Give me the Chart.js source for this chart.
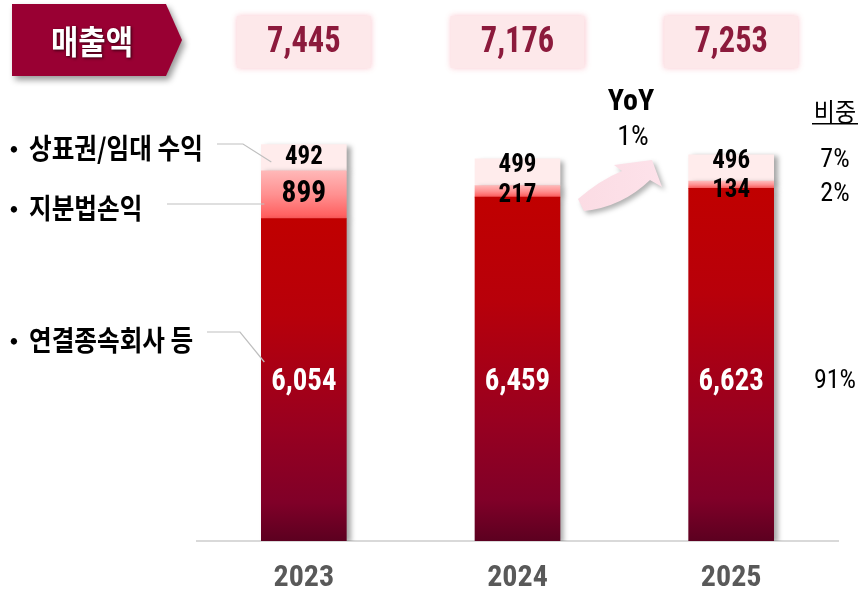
<!DOCTYPE html>
<html><head><meta charset="utf-8">
<script src="https://cdn.jsdelivr.net/npm/chart.js@4"></script>
<style>html,body{margin:0;padding:0;background:#fff;}canvas{display:block;}</style>
</head><body>
<canvas id="c" width="864" height="597"></canvas>
<script>
// ---- data ----
const categories = ['2023', '2024', '2025'];
const subsidiaries = [6054, 6459, 6623];   // 연결종속회사 등
const equityMethod = [899, 217, 134];      // 지분법손익
const royaltyRent = [492, 499, 496];       // 상표권/임대 수익
const totals = [7445, 7176, 7253];         // 매출액
const seriesNames = ['연결종속회사 등', '지분법손익', '상표권/임대 수익'];
const shareLabels = ['91%', '2%', '7%'];   // 비중 (2025) per series
const yoyText = '1%';
const headerText = '매출액';

const NARROW = '"Liberation Sans Narrow","Arial Narrow","Roboto Condensed","Liberation Sans",sans-serif';
const KR = '"Noto Sans CJK KR","Noto Sans KR",sans-serif';
const fmt = v => v.toLocaleString('en-US');

const seriesData = [subsidiaries, equityMethod, royaltyRent];

function gradientFill(stops) {
  return (c) => {
    const chart = c.chart;
    if (c.type !== 'data' || !chart.scales || !chart.scales.y) return stops[0][1];
    const y = chart.scales.y;
    let below = 0;
    for (let d = 0; d < c.datasetIndex; d++) below += seriesData[d][c.dataIndex];
    const above = below + seriesData[c.datasetIndex][c.dataIndex];
    const y0 = y.getPixelForValue(above), y1 = y.getPixelForValue(below);
    if (!isFinite(y0) || !isFinite(y1) || y0 === y1) return stops[0][1];
    const g = chart.ctx.createLinearGradient(0, y0, 0, y1);
    stops.forEach(s => g.addColorStop(s[0], s[1]));
    return g;
  };
}

function txt(ctx, s, x, y, font, color, align, sx) {
  ctx.save();
  ctx.font = font; ctx.fillStyle = color;
  ctx.textAlign = align || 'center'; ctx.textBaseline = 'middle';
  ctx.translate(x, y); ctx.scale(sx || 1, 1);
  ctx.fillText(s, 0, 0);
  ctx.restore();
}

const decor = {
  id: 'decor',
  beforeDatasetsDraw(chart) {
    const ctx = chart.ctx;
    ctx.save();
    ctx.shadowColor = 'rgba(0,0,0,0.35)';
    ctx.shadowBlur = 5; ctx.shadowOffsetX = 4; ctx.shadowOffsetY = 2;
  },
  afterDatasetsDraw(chart) {
    const ctx = chart.ctx;
    ctx.restore();
    const x = chart.scales.x, y = chart.scales.y;
    const m0 = chart.getDatasetMeta(0), m1 = chart.getDatasetMeta(1), m2 = chart.getDatasetMeta(2);

    // ---- category labels (x axis) ----
    categories.forEach((c, i) => {
      txt(ctx, c, x.getPixelForValue(i), chart.chartArea.bottom + 37, 'bold 30px ' + NARROW, '#595959');
    });

    // ---- header arrow box ----
    ctx.save();
    ctx.shadowColor = 'rgba(0,0,0,0.4)'; ctx.shadowBlur = 6; ctx.shadowOffsetX = 3; ctx.shadowOffsetY = 4;
    ctx.fillStyle = '#990033';
    ctx.beginPath();
    ctx.moveTo(12, 4); ctx.lineTo(166, 4); ctx.lineTo(182, 40); ctx.lineTo(166, 76); ctx.lineTo(12, 76);
    ctx.closePath(); ctx.fill();
    ctx.restore();
    ctx.save();
    ctx.shadowColor = 'rgba(0,0,0,0.7)'; ctx.shadowBlur = 3; ctx.shadowOffsetX = 1; ctx.shadowOffsetY = 1;
    txt(ctx, headerText, 92, 41, 'bold 33px ' + KR, '#ffffff', 'center', 0.9);
    ctx.restore();

    // ---- totals boxes ----
    categories.forEach((c, i) => {
      const cx = x.getPixelForValue(i);
      ctx.save();
      ctx.shadowColor = 'rgba(250,190,200,0.9)'; ctx.shadowBlur = 6;
      ctx.fillStyle = '#FDE8EA';
      ctx.fillRect(cx - 67, 16, 134, 52);
      ctx.restore();
      txt(ctx, fmt(totals[i]), cx, 43, 'bold 36px ' + NARROW, '#8C1A3C', 'center', 0.9);
    });

    // ---- segment labels ----
    const bottomLabelY = y.getPixelForValue(Math.min(...subsidiaries) / 2) + 2;
    const pos = [];
    categories.forEach((c, i) => {
      const b = m0.data[i], m = m1.data[i], t = m2.data[i];
      const midH = m.base - m.y;
      let ty, my, mfont;
      if (midH >= 30) {
        ty = (t.y + t.base) / 2; my = (m.y + m.base) / 2; mfont = 'bold 31px ';
      } else {
        ty = t.y + 7; my = m.y + 10; mfont = 'bold 25px ';
      }
      txt(ctx, fmt(royaltyRent[i]), t.x, ty, 'bold 25px ' + NARROW, '#000000');
      txt(ctx, fmt(equityMethod[i]), m.x, my, mfont + NARROW, '#000000', 'center', midH >= 30 ? 0.95 : 1);
      txt(ctx, fmt(subsidiaries[i]), b.x, bottomLabelY, 'bold 31px ' + NARROW, '#ffffff', 'center', 0.93);
      pos.push({ ty, my });
    });

    // ---- share column (비중) ----
    const last = pos[pos.length - 1];
    const sx = 835;
    txt(ctx, '비중', sx, 111, '25px ' + KR, '#000000', 'center', 0.92);
    ctx.fillStyle = '#000'; ctx.fillRect(812, 123, 46, 1.5);
    txt(ctx, shareLabels[2], sx, last.ty - 1, '26px ' + NARROW, '#000000');
    txt(ctx, shareLabels[1], sx, last.my + 3, '26px ' + NARROW, '#000000');
    txt(ctx, shareLabels[0], sx, bottomLabelY, '26px ' + NARROW, '#000000');

    // ---- YoY ----
    txt(ctx, 'YoY', 631, 102, 'bold 30px ' + NARROW, '#000000');
    txt(ctx, yoyText, 633, 138, '28px ' + NARROW, '#000000');
    ctx.save();
    ctx.shadowColor = 'rgba(0,0,0,0.3)'; ctx.shadowBlur = 5; ctx.shadowOffsetX = 3; ctx.shadowOffsetY = 3;
    const ag = ctx.createLinearGradient(578, 0, 662, 0);
    ag.addColorStop(0, '#FBDCE4'); ag.addColorStop(1, '#FDE2EA');
    ctx.fillStyle = ag;
    ctx.beginPath();
    ctx.moveTo(578, 199);
    ctx.quadraticCurveTo(600, 180, 622, 171);
    ctx.lineTo(614, 165);
    ctx.lineTo(652, 160);
    ctx.lineTo(662, 187);
    ctx.lineTo(650, 180);
    ctx.quadraticCurveTo(622, 207, 584, 211);
    ctx.closePath(); ctx.fill();
    ctx.restore();

    // ---- left series labels with connectors ----
    const left = m0.data[0].x - m0.data[0].width / 2;
    const labels = [
      { name: seriesNames[2], ty: 148, line: [[217, 144], [243, 144], [left + 10, 162]] },
      { name: seriesNames[1], ty: 208, line: [[167, 204], [left + 3, 204]] },
      { name: seriesNames[0], ty: 340, line: [[207, 332], [240, 332], [left + 3, 362]] },
    ];
    labels.forEach(l => {
      txt(ctx, '•', 14, l.ty, 'bold 22px ' + KR, '#000000');
      txt(ctx, l.name, 29, l.ty, 'bold 28px ' + KR, '#000000', 'left', 0.88);
      ctx.save();
      ctx.strokeStyle = '#BFBFBF'; ctx.lineWidth = 1.2;
      ctx.beginPath();
      l.line.forEach((p, k) => k ? ctx.lineTo(p[0], p[1]) : ctx.moveTo(p[0], p[1]));
      ctx.stroke();
      ctx.restore();
    });
  }
};

new Chart(document.getElementById('c'), {
  type: 'bar',
  data: {
    labels: categories,
    datasets: [
      { label: seriesNames[0], data: subsidiaries,
        backgroundColor: gradientFill([[0, '#C00000'], [0.3, '#B8000A'], [0.65, '#980020'], [0.88, '#800028'], [1, '#5C0020']]) },
      { label: seriesNames[1], data: equityMethod,
        backgroundColor: gradientFill([[0, '#FFB8B8'], [0.5, '#FF9090'], [1, '#FF5A5A']]) },
      { label: seriesNames[2], data: royaltyRent, backgroundColor: '#FFECEC' },
    ]
  },
  options: {
    responsive: false,
    animation: false,
    devicePixelRatio: 1,
    layout: { padding: { left: 197, right: 26, top: 115, bottom: 56 } },
    datasets: { bar: { barThickness: 85, borderWidth: 0 } },
    plugins: { legend: { display: false }, tooltip: { enabled: false } },
    scales: {
      x: {
        stacked: true,
        grid: { display: false, drawTicks: false },
        border: { display: true, color: '#D9D9D9', width: 2 },
        ticks: { display: false }
      },
      y: { stacked: true, display: false, min: 0, max: 8000 }
    }
  },
  plugins: [decor]
});
</script>
</body></html>
